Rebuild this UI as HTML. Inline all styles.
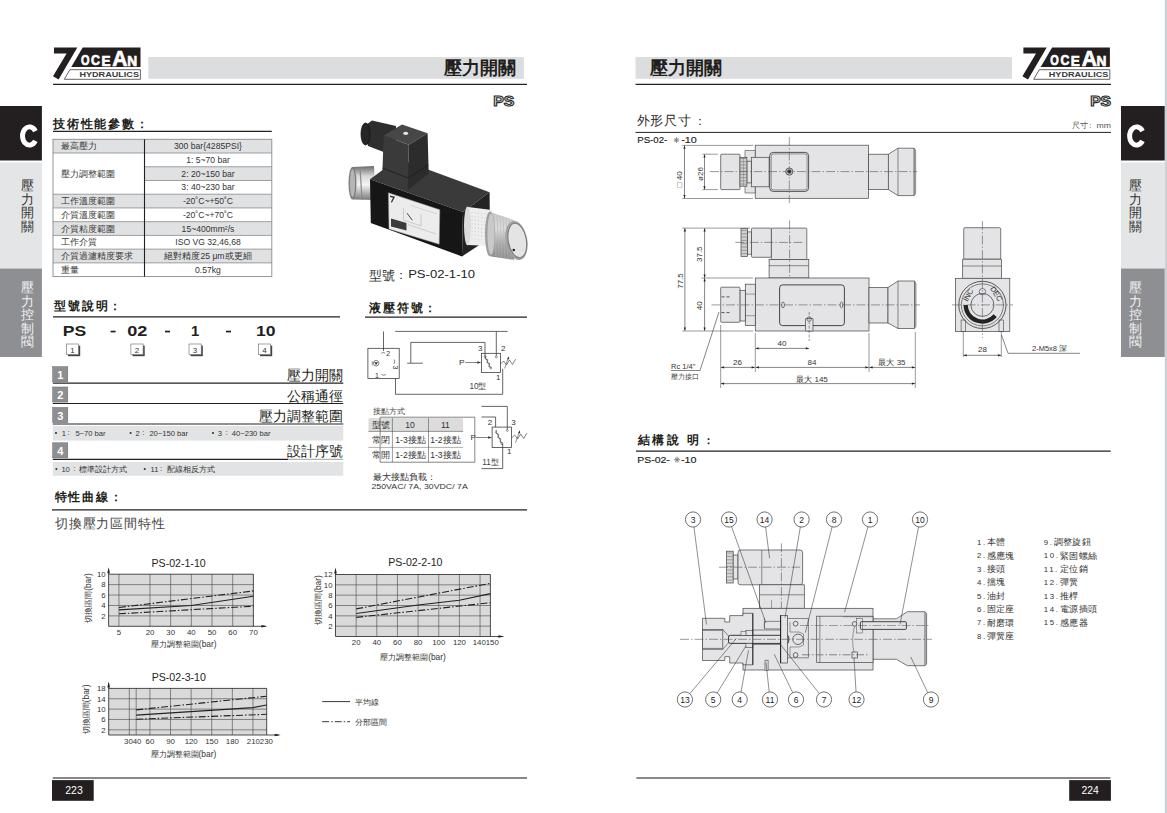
<!DOCTYPE html>
<html><head><meta charset="utf-8"><style>
html,body{margin:0;padding:0;background:#fff;width:1167px;height:813px;overflow:hidden}
svg{display:block}
</style></head><body>
<svg width="1167" height="813" viewBox="0 0 1167 813" font-family='"Liberation Sans", sans-serif'><rect x="0" y="0" width="1167" height="813" fill="#fff" stroke="none" stroke-width="1" /><polygon points="54.0,47.6 77.3,47.6 58.6,79.6 53.0,76.3 66.6,53.4 54.0,53.4" fill="#231f20"/><polygon points="82.7,47.6 140.5,47.6 140.5,67.1 71.3,67.1" fill="#231f20"/><polygon points="69.9,69.7 140.4,69.7 140.4,79.3 64.3,79.3" fill="#fff" stroke="#555" stroke-width="0.9"/><text transform="translate(80.95,65.45) scale(0.731,1)" font-size="14.97" font-weight="bold" fill="#fff" stroke="#fff" stroke-width="0.7">O</text><text transform="translate(91.09,65.45) scale(0.827,1)" font-size="14.97" font-weight="bold" fill="#fff" stroke="#fff" stroke-width="0.7">C</text><text transform="translate(101.39,65.60) scale(0.896,1)" font-size="15.12" font-weight="bold" fill="#fff" stroke="#fff" stroke-width="0.7">E</text><text transform="translate(112.28,65.60) scale(0.915,1)" font-size="22.97" font-weight="bold" fill="#fff" stroke="#fff" stroke-width="0.7">A</text><text transform="translate(127.18,65.60) scale(0.911,1)" font-size="15.12" font-weight="bold" fill="#fff" stroke="#fff" stroke-width="0.7">N</text><text transform="translate(79.39,76.82) scale(1.132,1)" font-size="8.05" font-weight="bold" fill="#3a3a3a" >HYDRAULICS</text><rect x="148.3" y="57" width="375.6" height="21.8" fill="#dcdddf" stroke="none" stroke-width="1" /><text x="515.8" y="74" font-size="18.2" text-anchor="end" font-weight="bold" fill="#231f20" >壓力開關</text><line x1="53" y1="84.3" x2="527" y2="84.3" stroke="#222" stroke-width="1.3" /><text transform="translate(493.24,105.56) scale(1.097,1)" font-size="14.41" font-weight="bold" fill="#e2e2e2" stroke="#2a2a2a" stroke-width="1.05">PS</text><rect x="0" y="106" width="41.9" height="54.5" fill="#231f20" stroke="none" stroke-width="1" /><path d="M35.37,131.04 A7.0,9.1 0 1 0 35.37,140.96" fill="none" stroke="#fff" stroke-width="4.9"/><rect x="0" y="162.5" width="41.9" height="106" fill="#e4e5e7" stroke="none" stroke-width="1" /><rect x="0" y="268.5" width="41.9" height="88.5" fill="#8e8f93" stroke="none" stroke-width="1" /><text x="27.7" y="190.0" font-size="13" text-anchor="middle" font-weight="normal" fill="#333" >壓</text><text x="27.7" y="203.5" font-size="13" text-anchor="middle" font-weight="normal" fill="#333" >力</text><text x="27.7" y="217.0" font-size="13" text-anchor="middle" font-weight="normal" fill="#333" >開</text><text x="27.7" y="230.5" font-size="13" text-anchor="middle" font-weight="normal" fill="#333" >關</text><text x="27.7" y="292.0" font-size="13" text-anchor="middle" font-weight="normal" fill="#f2f2f2" >壓</text><text x="27.7" y="305.5" font-size="13" text-anchor="middle" font-weight="normal" fill="#f2f2f2" >力</text><text x="27.7" y="319.0" font-size="13" text-anchor="middle" font-weight="normal" fill="#f2f2f2" >控</text><text x="27.7" y="332.5" font-size="13" text-anchor="middle" font-weight="normal" fill="#f2f2f2" >制</text><text x="27.7" y="346.0" font-size="13" text-anchor="middle" font-weight="normal" fill="#f2f2f2" >閥</text><text x="53" y="127.5" font-size="12.3" text-anchor="start" font-weight="bold" fill="#231f20" letter-spacing="1.75">技術性能參數：</text><line x1="53" y1="131.3" x2="271.8" y2="131.3" stroke="#222" stroke-width="1.2" /><rect x="53" y="139.3" width="218.8" height="13.72999999999999" fill="#e0e1e3" stroke="none" stroke-width="1" /><rect x="144.5" y="166.76000000000002" width="127.30000000000001" height="13.72999999999999" fill="#e0e1e3" stroke="none" stroke-width="1" /><rect x="53" y="194.22000000000003" width="218.8" height="13.72999999999999" fill="#e0e1e3" stroke="none" stroke-width="1" /><rect x="53" y="221.68" width="218.8" height="13.730000000000018" fill="#e0e1e3" stroke="none" stroke-width="1" /><rect x="53" y="249.14000000000001" width="218.8" height="13.72999999999999" fill="#e0e1e3" stroke="none" stroke-width="1" /><line x1="53" y1="153.03" x2="271.8" y2="153.03" stroke="#8a8a8a" stroke-width="0.8" /><line x1="144.5" y1="166.76000000000002" x2="271.8" y2="166.76000000000002" stroke="#8a8a8a" stroke-width="0.8" /><line x1="144.5" y1="180.49" x2="271.8" y2="180.49" stroke="#8a8a8a" stroke-width="0.8" /><line x1="53" y1="194.22000000000003" x2="271.8" y2="194.22000000000003" stroke="#8a8a8a" stroke-width="0.8" /><line x1="53" y1="207.95000000000002" x2="271.8" y2="207.95000000000002" stroke="#8a8a8a" stroke-width="0.8" /><line x1="53" y1="221.68" x2="271.8" y2="221.68" stroke="#8a8a8a" stroke-width="0.8" /><line x1="53" y1="235.41000000000003" x2="271.8" y2="235.41000000000003" stroke="#8a8a8a" stroke-width="0.8" /><line x1="53" y1="249.14000000000001" x2="271.8" y2="249.14000000000001" stroke="#8a8a8a" stroke-width="0.8" /><line x1="53" y1="262.87" x2="271.8" y2="262.87" stroke="#8a8a8a" stroke-width="0.8" /><rect x="53" y="139.3" width="218.8" height="137.3" fill="none" stroke="#8a8a8a" stroke-width="0.9" /><line x1="144.5" y1="139.3" x2="144.5" y2="276.6" stroke="#231f20" stroke-width="1.1" /><text x="61" y="149.3" font-size="8.5" text-anchor="start" font-weight="normal" fill="#3a3a3a" >最高壓力</text><text x="208" y="149.3" font-size="8.6" text-anchor="middle" font-weight="normal" fill="#333" >300 bar{4285PSI}</text><text x="208" y="163.03" font-size="8.6" text-anchor="middle" font-weight="normal" fill="#333" >1: 5~70 bar</text><text x="208" y="176.76000000000002" font-size="8.6" text-anchor="middle" font-weight="normal" fill="#333" >2: 20~150 bar</text><text x="208" y="190.49" font-size="8.6" text-anchor="middle" font-weight="normal" fill="#333" >3: 40~230 bar</text><text x="61" y="204.22000000000003" font-size="8.5" text-anchor="start" font-weight="normal" fill="#3a3a3a" >工作溫度範圍</text><text x="208" y="204.22000000000003" font-size="8.6" text-anchor="middle" font-weight="normal" fill="#333" >-20˚C~+50˚C</text><text x="61" y="217.95000000000002" font-size="8.5" text-anchor="start" font-weight="normal" fill="#3a3a3a" >介質溫度範圍</text><text x="208" y="217.95000000000002" font-size="8.6" text-anchor="middle" font-weight="normal" fill="#333" >-20˚C~+70˚C</text><text x="61" y="231.68" font-size="8.5" text-anchor="start" font-weight="normal" fill="#3a3a3a" >介質粘度範圍</text><text x="208" y="231.68" font-size="8.6" text-anchor="middle" font-weight="normal" fill="#333" >15~400mm²/s</text><text x="61" y="245.41000000000003" font-size="8.5" text-anchor="start" font-weight="normal" fill="#3a3a3a" >工作介質</text><text x="208" y="245.41000000000003" font-size="8.6" text-anchor="middle" font-weight="normal" fill="#333" >ISO VG 32,46,68</text><text x="61" y="259.14" font-size="8.5" text-anchor="start" font-weight="normal" fill="#3a3a3a" >介質過濾精度要求</text><text x="208" y="259.14" font-size="8.6" text-anchor="middle" font-weight="normal" fill="#333" >絕對精度25 μm或更細</text><text x="61" y="272.87" font-size="8.5" text-anchor="start" font-weight="normal" fill="#3a3a3a" >重量</text><text x="208" y="272.87" font-size="8.6" text-anchor="middle" font-weight="normal" fill="#333" >0.57kg</text><text x="61" y="176.625" font-size="8.5" text-anchor="start" font-weight="normal" fill="#3a3a3a" >壓力調整範圍</text><text x="54.4" y="310" font-size="12.3" text-anchor="start" font-weight="bold" fill="#231f20" letter-spacing="1.75">型號說明：</text><line x1="53" y1="316.8" x2="340" y2="316.8" stroke="#222" stroke-width="1.2" /><text transform="translate(62.72,336.05) scale(1.175,1)" font-size="14.97" font-weight="bold" fill="#231f20" >PS</text><text transform="translate(127.18,336.05) scale(1.209,1)" font-size="14.97" font-weight="bold" fill="#231f20" >02</text><text transform="translate(191.07,336.20) scale(0.962,1)" font-size="15.41" font-weight="bold" fill="#231f20" >1</text><text transform="translate(255.89,336.05) scale(1.173,1)" font-size="14.97" font-weight="bold" fill="#231f20" >10</text><rect x="110.6" y="330.7" width="5" height="1.7" fill="#231f20" stroke="none" stroke-width="1" /><rect x="165" y="330.7" width="5" height="1.7" fill="#231f20" stroke="none" stroke-width="1" /><rect x="226" y="330.7" width="5" height="1.7" fill="#231f20" stroke="none" stroke-width="1" /><rect x="68.0" y="345.6" width="12.2" height="10.6" fill="#444" stroke="none" stroke-width="1" /><rect x="66.4" y="344" width="12.2" height="10.6" fill="#fff" stroke="#666" stroke-width="0.6" /><text x="72.5" y="352.6" font-size="8" text-anchor="middle" font-weight="normal" fill="#333" >1</text><rect x="132.5" y="345.6" width="12.2" height="10.6" fill="#444" stroke="none" stroke-width="1" /><rect x="130.9" y="344" width="12.2" height="10.6" fill="#fff" stroke="#666" stroke-width="0.6" /><text x="137.0" y="352.6" font-size="8" text-anchor="middle" font-weight="normal" fill="#333" >2</text><rect x="190.6" y="345.6" width="12.2" height="10.6" fill="#444" stroke="none" stroke-width="1" /><rect x="189" y="344" width="12.2" height="10.6" fill="#fff" stroke="#666" stroke-width="0.6" /><text x="195.1" y="352.6" font-size="8" text-anchor="middle" font-weight="normal" fill="#333" >3</text><rect x="260.0" y="345.6" width="12.2" height="10.6" fill="#444" stroke="none" stroke-width="1" /><rect x="258.4" y="344" width="12.2" height="10.6" fill="#fff" stroke="#666" stroke-width="0.6" /><text x="264.5" y="352.6" font-size="8" text-anchor="middle" font-weight="normal" fill="#333" >4</text><rect x="52.7" y="366.7" width="15.1" height="15.1" fill="#8e8f93" stroke="#666" stroke-width="0.5" /><text x="60.2" y="378.7" font-size="11" text-anchor="middle" font-weight="bold" fill="#fff" >1</text><text x="343.3" y="380.3" font-size="13.6" text-anchor="end" font-weight="normal" fill="#231f20" >壓力開關</text><line x1="52.8" y1="383.2" x2="343.3" y2="383.2" stroke="#222" stroke-width="1.2" /><rect x="52.7" y="387" width="15.1" height="15.1" fill="#8e8f93" stroke="#666" stroke-width="0.5" /><text x="60.2" y="399" font-size="11" text-anchor="middle" font-weight="bold" fill="#fff" >2</text><text x="343.3" y="400.6" font-size="13.6" text-anchor="end" font-weight="normal" fill="#231f20" >公稱通徑</text><line x1="52.8" y1="403.5" x2="343.3" y2="403.5" stroke="#222" stroke-width="1.2" /><rect x="52.7" y="407.5" width="15.1" height="15.1" fill="#8e8f93" stroke="#666" stroke-width="0.5" /><text x="60.2" y="419.5" font-size="11" text-anchor="middle" font-weight="bold" fill="#fff" >3</text><text x="343.3" y="421.1" font-size="13.6" text-anchor="end" font-weight="normal" fill="#231f20" >壓力調整範圍</text><line x1="52.8" y1="424.0" x2="343.3" y2="424.0" stroke="#222" stroke-width="1.2" /><rect x="52.8" y="426" width="290.5" height="14.600000000000023" fill="#e2e3e5" stroke="none" stroke-width="1" /><circle cx="56.0" cy="433" r="1.05" fill="#333"/><text x="61.8" y="435.6" font-size="7.6" text-anchor="start" font-weight="normal" fill="#333" >1</text><text x="67.6" y="435.4" font-size="7.6" text-anchor="start" font-weight="normal" fill="#333" >:</text><text x="75.4" y="435.6" font-size="7.6" text-anchor="start" font-weight="normal" fill="#333" >5~70 bar</text><circle cx="130.60000000000002" cy="433" r="1.05" fill="#333"/><text x="135.4" y="435.6" font-size="7.6" text-anchor="start" font-weight="normal" fill="#333" >2</text><text x="142.3" y="435.4" font-size="7.6" text-anchor="start" font-weight="normal" fill="#333" >:</text><text x="149.4" y="435.6" font-size="7.6" text-anchor="start" font-weight="normal" fill="#333" >20~150 bar</text><circle cx="213.0" cy="433" r="1.05" fill="#333"/><text x="217.8" y="435.6" font-size="7.6" text-anchor="start" font-weight="normal" fill="#333" >3</text><text x="225.4" y="435.4" font-size="7.6" text-anchor="start" font-weight="normal" fill="#333" >:</text><text x="231.8" y="435.6" font-size="7.6" text-anchor="start" font-weight="normal" fill="#333" >40~230 bar</text><rect x="52.7" y="442.8" width="15.1" height="15.1" fill="#8e8f93" stroke="#666" stroke-width="0.5" /><text x="60.2" y="454.8" font-size="11" text-anchor="middle" font-weight="bold" fill="#fff" >4</text><text x="343.3" y="456.40000000000003" font-size="13.6" text-anchor="end" font-weight="normal" fill="#231f20" >設計序號</text><line x1="52.8" y1="459.3" x2="288" y2="459.3" stroke="#222" stroke-width="1.2" /><line x1="288" y1="459.3" x2="343.3" y2="459.3" stroke="#777" stroke-width="0.7" /><rect x="52.8" y="462" width="290.5" height="13.800000000000011" fill="#e2e3e5" stroke="none" stroke-width="1" /><circle cx="56.4" cy="469" r="1.05" fill="#333"/><text x="61.4" y="471.6" font-size="7.6" text-anchor="start" font-weight="normal" fill="#333" >10</text><text x="73.2" y="471.4" font-size="7.6" text-anchor="start" font-weight="normal" fill="#333" >:</text><text x="78.8" y="471.9" font-size="8.2" text-anchor="start" font-weight="normal" fill="#333" >標準設計方式</text><circle cx="144.70000000000002" cy="469" r="1.05" fill="#333"/><text x="150.5" y="471.6" font-size="7.6" text-anchor="start" font-weight="normal" fill="#333" >11</text><text x="160" y="471.4" font-size="7.6" text-anchor="start" font-weight="normal" fill="#333" >:</text><text x="166.8" y="471.9" font-size="8.2" text-anchor="start" font-weight="normal" fill="#333" >配線相反方式</text><text x="54.5" y="500.5" font-size="12.3" text-anchor="start" font-weight="bold" fill="#231f20" letter-spacing="1.75">特性曲線：</text><line x1="52" y1="509.8" x2="527" y2="509.8" stroke="#222" stroke-width="1.2" /><text x="55" y="528" font-size="13" text-anchor="start" font-weight="normal" fill="#444" letter-spacing="0.8">切換壓力區間特性</text><text x="369.3" y="311.5" font-size="12.3" text-anchor="start" font-weight="bold" fill="#231f20" letter-spacing="1.75">液壓符號：</text><line x1="365" y1="317.2" x2="527" y2="317.2" stroke="#222" stroke-width="1.2" /><rect x="367.9" y="348.3" width="31.3" height="30.1" fill="none" stroke="#333" stroke-width="0.75" /><polyline points="383.5,331.4 383.5,351" fill="none" stroke="#333" stroke-width="0.75"/><line x1="395.2" y1="331.4" x2="507.6" y2="331.4" stroke="#333" stroke-width="0.75" /><polyline points="496.3,331.4 496.3,355.8" fill="none" stroke="#333" stroke-width="0.75"/><circle cx="496.3" cy="356.8" r="1" fill="none" stroke="#333" stroke-width="0.5"/><polyline points="410.8,363.2 410.8,342.4 485,342.4 485,355.4" fill="none" stroke="#333" stroke-width="0.75"/><circle cx="485" cy="356.4" r="1" fill="none" stroke="#333" stroke-width="0.5"/><line x1="407.2" y1="363.2" x2="422.8" y2="363.2" stroke="#333" stroke-width="0.75" /><rect x="481.5" y="353.3" width="19.1" height="19.1" fill="none" stroke="#333" stroke-width="0.75" /><polyline points="502.7,368.8 502.7,394.3 395.5,394.3 395.5,378.4" fill="none" stroke="#333" stroke-width="0.75"/><circle cx="376.1" cy="363.2" r="2.8" fill="none" stroke="#333" stroke-width="0.6"/><path d="M374.2,362.2 L378,362.2 L376.1,365 Z" fill="#333"/><line x1="372.3" y1="361" x2="372.3" y2="365.5" stroke="#333" stroke-width="0.5" /><path d="M381.2,353.3 q2,-1.6 4,0" fill="none" stroke="#333" stroke-width="0.6"/><text x="386.3" y="355.6" font-size="7" text-anchor="start" font-weight="normal" fill="#333" >2</text><path d="M394,359.5 q1.6,2 0,4.3" fill="none" stroke="#333" stroke-width="0.6"/><text x="393" y="365.5" font-size="7" fill="#333" transform="rotate(90 393 365.5)">3</text><text x="375" y="378" font-size="7" text-anchor="start" font-weight="normal" fill="#333" >1</text><path d="M381.5,374.5 q2.2,1.6 4.4,0" fill="none" stroke="#333" stroke-width="0.6"/><line x1="485" y1="356.4" x2="490.7" y2="368.1" stroke="#333" stroke-width="0.5"/><polyline points="485.99,355.92 484.96,358.83 487.89,359.82 486.86,362.73 489.79,363.72 488.76,366.63 491.69,367.62" fill="none" stroke="#333" stroke-width="0.6"/><circle cx="490.7" cy="368.1" r="0.9" fill="#fff" stroke="#333" stroke-width="0.5"/><polyline points="500.6,364 503.56,361 506.52,365 509.48,360 512.4399999999999,364.5 515.4,359.5 515.9,360" fill="none" stroke="#333" stroke-width="0.6"/><line x1="504.6" y1="368.5" x2="508.6" y2="357" stroke="#333" stroke-width="0.55"/><polygon points="508.90000000000003,356.2 507.20000000000005,359 509.20000000000005,359.4" fill="#333"/><text x="478" y="351.3" font-size="8" text-anchor="start" font-weight="normal" fill="#333" >3</text><text x="501" y="351.3" font-size="8" text-anchor="start" font-weight="normal" fill="#333" >2</text><text x="496" y="380.2" font-size="8" text-anchor="start" font-weight="normal" fill="#333" >1</text><text transform="translate(458.91,364.90) scale(1.098,1)" font-size="7.70" font-weight="normal" fill="#333" >P</text><line x1="465.2" y1="362.5" x2="478.5" y2="362.5" stroke="#333" stroke-width="0.6" /><polygon points="481.3,362.5 477.3,361.2 477.3,363.8" fill="#333"/><text x="469.4" y="388.6" font-size="8.2" text-anchor="start" font-weight="normal" fill="#444" >10型</text><text x="372.6" y="414.2" font-size="7.8" text-anchor="start" font-weight="normal" fill="#444" >接點方式</text><rect x="368.4" y="418.1" width="94.7" height="13.3" fill="#dcdcdc" stroke="none" stroke-width="1" /><polyline points="380.4,417.2 474.8,417.2 474.8,462.2 380.1,462.2" fill="none" stroke="#333" stroke-width="0.6"/><line x1="380.1" y1="417.2" x2="380.1" y2="462.2" stroke="#333" stroke-width="0.6" /><line x1="368.4" y1="431.4" x2="463.1" y2="431.4" stroke="#555" stroke-width="0.6" /><line x1="368.4" y1="447.4" x2="463.1" y2="447.4" stroke="#999" stroke-width="0.8" /><line x1="392.4" y1="418.1" x2="392.4" y2="462.2" stroke="#555" stroke-width="0.6" /><line x1="428.5" y1="418.1" x2="428.5" y2="462.2" stroke="#555" stroke-width="0.6" /><text x="381.2" y="428.3" font-size="8.6" text-anchor="middle" font-weight="normal" fill="#333" >型號</text><text x="410.1" y="428.3" font-size="8.6" text-anchor="middle" font-weight="normal" fill="#333" >10</text><text x="445.4" y="428.3" font-size="8.6" text-anchor="middle" font-weight="normal" fill="#333" >11</text><text x="381.2" y="443" font-size="8.6" text-anchor="middle" font-weight="normal" fill="#333" >常閉</text><text x="410.5" y="443" font-size="8.6" text-anchor="middle" font-weight="normal" fill="#333" >1-3接點</text><text x="445.4" y="443" font-size="8.6" text-anchor="middle" font-weight="normal" fill="#333" >1-2接點</text><text x="381.2" y="458.2" font-size="8.6" text-anchor="middle" font-weight="normal" fill="#333" >常開</text><text x="410.5" y="458.2" font-size="8.6" text-anchor="middle" font-weight="normal" fill="#333" >1-2接點</text><text x="445.4" y="458.2" font-size="8.6" text-anchor="middle" font-weight="normal" fill="#333" >1-3接點</text><polyline points="481.5,406.4 507.3,406.4 507.3,429.4" fill="none" stroke="#333" stroke-width="0.75"/><circle cx="507.3" cy="430.4" r="1" fill="none" stroke="#333" stroke-width="0.5"/><polyline points="481.5,417 495.6,417 495.6,427.1" fill="none" stroke="#333" stroke-width="0.75"/><rect x="492.1" y="427.1" width="19.5" height="20.3" fill="none" stroke="#333" stroke-width="0.75" /><line x1="495.6" y1="430.4" x2="502" y2="443.8" stroke="#333" stroke-width="0.5"/><polyline points="496.59,429.93 495.67,433.11 498.73,434.39 497.81,437.57 500.86,438.86 499.94,442.04 502.99,443.33" fill="none" stroke="#333" stroke-width="0.6"/><circle cx="502" cy="443.8" r="0.9" fill="#fff" stroke="#333" stroke-width="0.5"/><polyline points="511.6,438 514.62,435 517.64,439 520.6600000000001,434 523.6800000000001,438.5 526.7,433.5 527.2,434" fill="none" stroke="#333" stroke-width="0.6"/><line x1="515.6" y1="442.5" x2="519.6" y2="431" stroke="#333" stroke-width="0.55"/><polygon points="519.9,430.2 518.2,433 520.2,433.4" fill="#333"/><polyline points="502.7,443.8 502.7,468.6 481.5,468.6" fill="none" stroke="#333" stroke-width="0.75"/><text x="487.8" y="425.2" font-size="8" text-anchor="start" font-weight="normal" fill="#333" >2</text><text x="511.2" y="425.4" font-size="8" text-anchor="start" font-weight="normal" fill="#333" >3</text><text x="506.9" y="454.4" font-size="8" text-anchor="start" font-weight="normal" fill="#333" >1</text><text transform="translate(470.44,439.60) scale(1.112,1)" font-size="7.27" font-weight="normal" fill="#333" >P</text><line x1="475.8" y1="437.5" x2="489.5" y2="437.5" stroke="#333" stroke-width="0.6" /><polygon points="492.1,437.5 488.1,436.2 488.1,438.8" fill="#333"/><text x="482.2" y="465.3" font-size="8.2" text-anchor="start" font-weight="normal" fill="#444" >11型</text><text x="372.6" y="480" font-size="8.6" text-anchor="start" font-weight="normal" fill="#333" >最大接點負載：</text><text transform="translate(371.46,489.39) scale(1.388,1)" font-size="6.33" font-weight="normal" fill="#333" >250VAC/ 7A, 30VDC/ 7A</text><defs>
<linearGradient id="gMetal" x1="0" y1="0" x2="0" y2="1"><stop offset="0" stop-color="#6a6a6a"/><stop offset="0.3" stop-color="#d8d8d8"/><stop offset="0.55" stop-color="#f4f4f4"/><stop offset="1" stop-color="#7a7a7a"/></linearGradient>
<linearGradient id="gKnob" x1="0" y1="0" x2="1" y2="1"><stop offset="0" stop-color="#9a9a9a"/><stop offset="0.5" stop-color="#e6e6e6"/><stop offset="1" stop-color="#8a8a8a"/></linearGradient>
<linearGradient id="gTop" x1="0" y1="0" x2="1" y2="0"><stop offset="0" stop-color="#3a3a3a"/><stop offset="1" stop-color="#1a1a1a"/></linearGradient>
</defs><path d="M352,167 L374,166 L376,200 L353,199.5 Z" fill="url(#gMetal)"/><ellipse cx="352.5" cy="183.2" rx="4" ry="16.3" fill="#7d7d7d"/><ellipse cx="352.5" cy="183.2" rx="2.6" ry="14" fill="#b5b5b5"/><path d="M360,167 L362,199.7" stroke="#8a8a8a" stroke-width="1.2"/><polygon points="370,179.3 398.2,158.6 489.6,192.2 463,212" fill="#3a3a3a"/><polygon points="370,179.3 463,212 462,256.4 370.8,223" fill="#161616"/><polygon points="463,212 489.6,192.2 490,238 462,256.4" fill="#232323"/><polygon points="388.4,192.8 439.8,209.7 439.2,244.2 389,229" fill="#ececec" stroke="#999" stroke-width="0.5"/><polygon points="391,218.5 406.5,223 406.5,230.5 391,226.5" fill="#3c3c3c"/><line x1="407" y1="213.2" x2="412.3" y2="220.2" stroke="#333" stroke-width="0.9"/><polyline points="403.5,208 403.5,220 421,226 421,214" fill="none" stroke="#999" stroke-width="0.4"/><line x1="408" y1="224.5" x2="436" y2="234" stroke="#999" stroke-width="0.4"/><line x1="411" y1="205.5" x2="437" y2="214" stroke="#aaa" stroke-width="0.6" stroke-dasharray="1,0.6"/><polygon points="390,195.5 395,196.8 392,202.5 390.8,202.2 393,197.8 390,197" fill="#333"/><polygon points="363,127 372,120.5 396,126 396,150 383.7,152 368,146" fill="#2e2e2e"/><ellipse cx="365.5" cy="134" rx="4.5" ry="11" fill="#262626" stroke="#111" stroke-width="0.8"/><polygon points="383.7,135.4 408.8,144.8 407.8,190.3 382.1,179.9" fill="#3a3a3a"/><polygon points="383.7,135.4 402,124.4 427.6,133.3 408.8,144.8" fill="#474747"/><polygon points="408.8,144.8 427.6,133.3 428.7,173.6 407.8,190.3" fill="#2c2c2c"/><polyline points="382.5,168 408,178 428.5,165" fill="none" stroke="#1a1a1a" stroke-width="0.8"/><ellipse cx="405.7" cy="133.3" rx="2.6" ry="1.6" fill="#e5e5e5"/><path d="M468,207 L492,210 L492,246 L468,245 Z" fill="#eeeeee"/><ellipse cx="467.5" cy="226" rx="3.5" ry="19.5" fill="#dcdcdc"/><line x1="472.0" y1="212.0" x2="472.0" y2="240.0" stroke="#aaa" stroke-width="0.5" stroke-dasharray="1.2,2.5"/><line x1="475.2" y1="212.4" x2="475.2" y2="239.8" stroke="#aaa" stroke-width="0.5" stroke-dasharray="1.2,2.5"/><line x1="478.4" y1="212.8" x2="478.4" y2="239.6" stroke="#aaa" stroke-width="0.5" stroke-dasharray="1.2,2.5"/><line x1="481.6" y1="213.2" x2="481.6" y2="239.4" stroke="#aaa" stroke-width="0.5" stroke-dasharray="1.2,2.5"/><line x1="484.8" y1="213.6" x2="484.8" y2="239.2" stroke="#aaa" stroke-width="0.5" stroke-dasharray="1.2,2.5"/><line x1="488.0" y1="214.0" x2="488.0" y2="239.0" stroke="#aaa" stroke-width="0.5" stroke-dasharray="1.2,2.5"/><defs><linearGradient id="gK2" x1="0" y1="0" x2="0" y2="1"><stop offset="0" stop-color="#c8c8c8"/><stop offset="0.35" stop-color="#dcdcdc"/><stop offset="0.7" stop-color="#a6a6a6"/><stop offset="1" stop-color="#8c8c8c"/></linearGradient></defs><path d="M489,211.5 L515,220.5 L514,259.8 L491,256.5 Z" fill="url(#gK2)"/><ellipse cx="490" cy="234" rx="5" ry="22.5" fill="#9e9e9e"/><ellipse cx="491" cy="234" rx="3.6" ry="20.5" fill="#c9c9c9"/><line x1="494" y1="214.0" x2="496" y2="256.0" stroke="#b5b5b5" stroke-width="0.6"/><line x1="497" y1="214.9" x2="499" y2="256.8" stroke="#b5b5b5" stroke-width="0.6"/><line x1="500" y1="215.8" x2="502" y2="257.6" stroke="#b5b5b5" stroke-width="0.6"/><line x1="503" y1="216.7" x2="505" y2="258.4" stroke="#b5b5b5" stroke-width="0.6"/><line x1="506" y1="217.6" x2="508" y2="259.2" stroke="#b5b5b5" stroke-width="0.6"/><line x1="509" y1="218.5" x2="511" y2="260.0" stroke="#b5b5b5" stroke-width="0.6"/><line x1="512" y1="219.4" x2="514" y2="260.8" stroke="#b5b5b5" stroke-width="0.6"/><ellipse cx="516.5" cy="240.5" rx="10.8" ry="19.8" fill="#a0a0a0" transform="rotate(-10 516.5 240.5)"/><ellipse cx="517.3" cy="240.5" rx="9" ry="17.5" fill="#e4e4e4" stroke="#7a7a7a" stroke-width="1" transform="rotate(-10 517.3 240.5)"/><circle cx="513.8" cy="250" r="1.3" fill="#222"/><text x="368.6" y="279.5" font-size="12.9" text-anchor="start" font-weight="normal" fill="#333" >型號</text><text x="395" y="279.3" font-size="12" text-anchor="start" font-weight="normal" fill="#333" >：</text><text transform="translate(408.13,278.29) scale(1.189,1)" font-size="11.02" font-weight="normal" fill="#222" >PS-02-1-10</text><text x="178.6" y="566.5" font-size="10.6" text-anchor="middle" font-weight="normal" fill="#231f20" >PS-02-1-10</text><rect x="108.6" y="574.2" width="144.8" height="52.09999999999991" fill="#dadada" stroke="none" stroke-width="1" /><line x1="118.94285714285714" y1="574.2" x2="118.94285714285714" y2="626.3" stroke="#444" stroke-width="0.6" /><line x1="149.9714285714286" y1="574.2" x2="149.9714285714286" y2="626.3" stroke="#444" stroke-width="0.6" /><line x1="170.65714285714287" y1="574.2" x2="170.65714285714287" y2="626.3" stroke="#444" stroke-width="0.6" /><line x1="191.34285714285716" y1="574.2" x2="191.34285714285716" y2="626.3" stroke="#444" stroke-width="0.6" /><line x1="212.02857142857144" y1="574.2" x2="212.02857142857144" y2="626.3" stroke="#444" stroke-width="0.6" /><line x1="232.71428571428572" y1="574.2" x2="232.71428571428572" y2="626.3" stroke="#444" stroke-width="0.6" /><line x1="108.6" y1="615.88" x2="253.4" y2="615.88" stroke="#444" stroke-width="0.6" /><line x1="108.6" y1="605.46" x2="253.4" y2="605.46" stroke="#444" stroke-width="0.6" /><line x1="108.6" y1="595.04" x2="253.4" y2="595.04" stroke="#444" stroke-width="0.6" /><line x1="108.6" y1="584.62" x2="253.4" y2="584.62" stroke="#444" stroke-width="0.6" /><line x1="108.6" y1="574.2" x2="253.4" y2="574.2" stroke="#222" stroke-width="0.8" /><line x1="253.4" y1="574.2" x2="253.4" y2="626.3" stroke="#222" stroke-width="0.8" /><line x1="108.6" y1="626.3" x2="265.4" y2="626.3" stroke="#222" stroke-width="0.8" /><polygon points="267.4,626.3 261.4,625.0 261.4,627.5999999999999" fill="#222"/><line x1="108.6" y1="626.3" x2="108.6" y2="569.2" stroke="#222" stroke-width="0.8" /><polygon points="108.6,567.2 107.3,573.2 109.89999999999999,573.2" fill="#222"/><text x="118.94285714285714" y="635.0999999999999" font-size="7.8" text-anchor="middle" font-weight="normal" fill="#333" >5</text><text x="149.9714285714286" y="635.0999999999999" font-size="7.8" text-anchor="middle" font-weight="normal" fill="#333" >20</text><text x="170.65714285714287" y="635.0999999999999" font-size="7.8" text-anchor="middle" font-weight="normal" fill="#333" >30</text><text x="191.34285714285716" y="635.0999999999999" font-size="7.8" text-anchor="middle" font-weight="normal" fill="#333" >40</text><text x="212.02857142857144" y="635.0999999999999" font-size="7.8" text-anchor="middle" font-weight="normal" fill="#333" >50</text><text x="232.71428571428572" y="635.0999999999999" font-size="7.8" text-anchor="middle" font-weight="normal" fill="#333" >60</text><text x="253.40000000000003" y="635.0999999999999" font-size="7.8" text-anchor="middle" font-weight="normal" fill="#333" >70</text><text x="105.6" y="577.0" font-size="7.8" text-anchor="end" font-weight="normal" fill="#333" >10</text><text x="105.6" y="587.42" font-size="7.8" text-anchor="end" font-weight="normal" fill="#333" >8</text><text x="105.6" y="597.8399999999999" font-size="7.8" text-anchor="end" font-weight="normal" fill="#333" >6</text><text x="105.6" y="608.26" font-size="7.8" text-anchor="end" font-weight="normal" fill="#333" >4</text><text x="105.6" y="618.68" font-size="7.8" text-anchor="end" font-weight="normal" fill="#333" >2</text><polyline points="118.9,607.5 253.4,590.9" fill="none" stroke="#222" stroke-width="1.1" stroke-dasharray="7,2,1.5,2"/><polyline points="118.9,609.9 191.3,605.5 253.4,596.3" fill="none" stroke="#222" stroke-width="1.1" /><polyline points="118.9,613.8 253.4,606.2" fill="none" stroke="#222" stroke-width="1.1" stroke-dasharray="7,2,1.5,2"/><text x="90.5" y="598" font-size="8.4" text-anchor="middle" fill="#333" transform="rotate(-90 90.5 598)">切換區間(bar)</text><text x="183.7" y="647" font-size="8.4" text-anchor="middle" font-weight="normal" fill="#333" >壓力調整範圍(bar)</text><text x="415.4" y="566.2" font-size="10.6" text-anchor="middle" font-weight="normal" fill="#231f20" >PS-02-2-10</text><rect x="335.5" y="574.5" width="154.89999999999998" height="62.0" fill="#dadada" stroke="none" stroke-width="1" /><line x1="356.1533333333333" y1="574.5" x2="356.1533333333333" y2="636.5" stroke="#444" stroke-width="0.6" /><line x1="376.8066666666667" y1="574.5" x2="376.8066666666667" y2="636.5" stroke="#444" stroke-width="0.6" /><line x1="397.46" y1="574.5" x2="397.46" y2="636.5" stroke="#444" stroke-width="0.6" /><line x1="418.11333333333334" y1="574.5" x2="418.11333333333334" y2="636.5" stroke="#444" stroke-width="0.6" /><line x1="438.76666666666665" y1="574.5" x2="438.76666666666665" y2="636.5" stroke="#444" stroke-width="0.6" /><line x1="459.41999999999996" y1="574.5" x2="459.41999999999996" y2="636.5" stroke="#444" stroke-width="0.6" /><line x1="480.0733333333333" y1="574.5" x2="480.0733333333333" y2="636.5" stroke="#444" stroke-width="0.6" /><line x1="335.5" y1="626.1666666666666" x2="490.4" y2="626.1666666666666" stroke="#444" stroke-width="0.6" /><line x1="335.5" y1="615.8333333333334" x2="490.4" y2="615.8333333333334" stroke="#444" stroke-width="0.6" /><line x1="335.5" y1="605.5" x2="490.4" y2="605.5" stroke="#444" stroke-width="0.6" /><line x1="335.5" y1="595.1666666666666" x2="490.4" y2="595.1666666666666" stroke="#444" stroke-width="0.6" /><line x1="335.5" y1="584.8333333333334" x2="490.4" y2="584.8333333333334" stroke="#444" stroke-width="0.6" /><line x1="335.5" y1="574.5" x2="490.4" y2="574.5" stroke="#222" stroke-width="0.8" /><line x1="490.4" y1="574.5" x2="490.4" y2="636.5" stroke="#222" stroke-width="0.8" /><line x1="335.5" y1="636.5" x2="502.4" y2="636.5" stroke="#222" stroke-width="0.8" /><polygon points="504.4,636.5 498.4,635.2 498.4,637.8" fill="#222"/><line x1="335.5" y1="636.5" x2="335.5" y2="569.5" stroke="#222" stroke-width="0.8" /><polygon points="335.5,567.5 334.2,573.5 336.8,573.5" fill="#222"/><text x="356.1533333333333" y="645.3" font-size="7.8" text-anchor="middle" font-weight="normal" fill="#333" >20</text><text x="376.8066666666667" y="645.3" font-size="7.8" text-anchor="middle" font-weight="normal" fill="#333" >40</text><text x="397.46" y="645.3" font-size="7.8" text-anchor="middle" font-weight="normal" fill="#333" >60</text><text x="418.11333333333334" y="645.3" font-size="7.8" text-anchor="middle" font-weight="normal" fill="#333" >80</text><text x="438.76666666666665" y="645.3" font-size="7.8" text-anchor="middle" font-weight="normal" fill="#333" >100</text><text x="459.41999999999996" y="645.3" font-size="7.8" text-anchor="middle" font-weight="normal" fill="#333" >120</text><text x="485.753" y="645.3" font-size="7.8" text-anchor="middle" font-weight="normal" fill="#333" >140150</text><text x="332.5" y="577.3" font-size="7.8" text-anchor="end" font-weight="normal" fill="#333" >12</text><text x="332.5" y="587.6333333333333" font-size="7.8" text-anchor="end" font-weight="normal" fill="#333" >10</text><text x="332.5" y="597.9666666666666" font-size="7.8" text-anchor="end" font-weight="normal" fill="#333" >8</text><text x="332.5" y="608.3" font-size="7.8" text-anchor="end" font-weight="normal" fill="#333" >6</text><text x="332.5" y="618.6333333333333" font-size="7.8" text-anchor="end" font-weight="normal" fill="#333" >4</text><text x="332.5" y="628.9666666666666" font-size="7.8" text-anchor="end" font-weight="normal" fill="#333" >2</text><polyline points="356.2,608.9 490.4,583.3" fill="none" stroke="#222" stroke-width="1.1" stroke-dasharray="7,2,1.5,2"/><polyline points="356.2,613.5 418.1,605.0 459.4,600.3 490.4,593.6" fill="none" stroke="#222" stroke-width="1.1" /><polyline points="356.2,617.4 490.4,602.7" fill="none" stroke="#222" stroke-width="1.1" stroke-dasharray="7,2,1.5,2"/><text x="321" y="600" font-size="8.4" text-anchor="middle" fill="#333" transform="rotate(-90 321 600)">切換區間(bar)</text><text x="413" y="660" font-size="8.4" text-anchor="middle" font-weight="normal" fill="#333" >壓力調整範圍(bar)</text><text x="178.8" y="681" font-size="10.6" text-anchor="middle" font-weight="normal" fill="#231f20" >PS-02-3-10</text><rect x="108.7" y="688.4" width="158.0" height="46.60000000000002" fill="#dadada" stroke="none" stroke-width="1" /><line x1="129.30869565217392" y1="688.4" x2="129.30869565217392" y2="735" stroke="#444" stroke-width="0.6" /><line x1="136.17826086956524" y1="688.4" x2="136.17826086956524" y2="735" stroke="#444" stroke-width="0.6" /><line x1="149.91739130434783" y1="688.4" x2="149.91739130434783" y2="735" stroke="#444" stroke-width="0.6" /><line x1="170.52608695652174" y1="688.4" x2="170.52608695652174" y2="735" stroke="#444" stroke-width="0.6" /><line x1="191.13478260869567" y1="688.4" x2="191.13478260869567" y2="735" stroke="#444" stroke-width="0.6" /><line x1="211.74347826086955" y1="688.4" x2="211.74347826086955" y2="735" stroke="#444" stroke-width="0.6" /><line x1="232.3521739130435" y1="688.4" x2="232.3521739130435" y2="735" stroke="#444" stroke-width="0.6" /><line x1="252.96086956521742" y1="688.4" x2="252.96086956521742" y2="735" stroke="#444" stroke-width="0.6" /><line x1="108.7" y1="729.8222222222222" x2="266.7" y2="729.8222222222222" stroke="#444" stroke-width="0.6" /><line x1="108.7" y1="719.4666666666667" x2="266.7" y2="719.4666666666667" stroke="#444" stroke-width="0.6" /><line x1="108.7" y1="709.1111111111111" x2="266.7" y2="709.1111111111111" stroke="#444" stroke-width="0.6" /><line x1="108.7" y1="698.7555555555555" x2="266.7" y2="698.7555555555555" stroke="#444" stroke-width="0.6" /><line x1="108.7" y1="688.4" x2="266.7" y2="688.4" stroke="#222" stroke-width="0.8" /><line x1="266.7" y1="688.4" x2="266.7" y2="735" stroke="#222" stroke-width="0.8" /><line x1="108.7" y1="735" x2="278.7" y2="735" stroke="#222" stroke-width="0.8" /><polygon points="280.7,735 274.7,733.7 274.7,736.3" fill="#222"/><line x1="108.7" y1="735" x2="108.7" y2="683.4" stroke="#222" stroke-width="0.8" /><polygon points="108.7,681.4 107.4,687.4 110.0,687.4" fill="#222"/><text x="132.74347826086958" y="743.8" font-size="7.8" text-anchor="middle" font-weight="normal" fill="#333" >3040</text><text x="149.91739130434783" y="743.8" font-size="7.8" text-anchor="middle" font-weight="normal" fill="#333" >60</text><text x="170.52608695652174" y="743.8" font-size="7.8" text-anchor="middle" font-weight="normal" fill="#333" >90</text><text x="191.13478260869567" y="743.8" font-size="7.8" text-anchor="middle" font-weight="normal" fill="#333" >120</text><text x="211.74347826086955" y="743.8" font-size="7.8" text-anchor="middle" font-weight="normal" fill="#333" >150</text><text x="232.3521739130435" y="743.8" font-size="7.8" text-anchor="middle" font-weight="normal" fill="#333" >180</text><text x="259.8304347826087" y="743.8" font-size="7.8" text-anchor="middle" font-weight="normal" fill="#333" >210230</text><text x="105.7" y="691.1999999999999" font-size="7.8" text-anchor="end" font-weight="normal" fill="#333" >18</text><text x="105.7" y="701.5555555555554" font-size="7.8" text-anchor="end" font-weight="normal" fill="#333" >14</text><text x="105.7" y="711.911111111111" font-size="7.8" text-anchor="end" font-weight="normal" fill="#333" >10</text><text x="105.7" y="722.2666666666667" font-size="7.8" text-anchor="end" font-weight="normal" fill="#333" >6</text><text x="105.7" y="732.6222222222221" font-size="7.8" text-anchor="end" font-weight="normal" fill="#333" >2</text><polyline points="136.2,709.9 266.7,696.2" fill="none" stroke="#222" stroke-width="1.1" stroke-dasharray="7,2,1.5,2"/><polyline points="136.2,715.1 253.0,707.6 266.7,705.0" fill="none" stroke="#222" stroke-width="1.1" /><polyline points="136.2,719.2 266.7,714.3" fill="none" stroke="#222" stroke-width="1.1" stroke-dasharray="7,2,1.5,2"/><text x="89.5" y="709.4" font-size="8.4" text-anchor="middle" fill="#333" transform="rotate(-90 89.5 709.4)">切換區間(bar)</text><text x="183.4" y="756.5" font-size="8.4" text-anchor="middle" font-weight="normal" fill="#333" >壓力調整範圍(bar)</text><line x1="322.2" y1="701.6" x2="350" y2="701.6" stroke="#222" stroke-width="0.9" /><text x="354.6" y="704.5" font-size="8" text-anchor="start" font-weight="normal" fill="#333" >平均線</text><line x1="322.2" y1="721.7" x2="350" y2="721.7" stroke="#222" stroke-width="0.9" stroke-dasharray="7,2,1.5,2"/><text x="354.6" y="724.6" font-size="8" text-anchor="start" font-weight="normal" fill="#333" >分部區間</text><line x1="52.7" y1="778" x2="527" y2="778" stroke="#888" stroke-width="1.9" /><rect x="52" y="780.1" width="41.7" height="20.7" fill="#231f20" stroke="none" stroke-width="1" /><text transform="translate(65.27,794.10) scale(1.031,1)" font-size="10.17" font-weight="normal" fill="#fff" >223</text><rect x="635.5" y="57" width="376.5" height="21.8" fill="#dcdddf" stroke="none" stroke-width="1" /><text x="650.3" y="74" font-size="18.2" text-anchor="start" font-weight="bold" fill="#231f20" >壓力開關</text><polygon points="1023.4,47.6 1046.7,47.6 1028.0,79.6 1022.4,76.3 1036.0,53.4 1023.4,53.4" fill="#231f20"/><polygon points="1052.1,47.6 1109.9,47.6 1109.9,67.1 1040.7,67.1" fill="#231f20"/><polygon points="1039.3,69.7 1109.8,69.7 1109.8,79.3 1033.7,79.3" fill="#fff" stroke="#555" stroke-width="0.9"/><text transform="translate(1050.35,65.45) scale(0.731,1)" font-size="14.97" font-weight="bold" fill="#fff" stroke="#fff" stroke-width="0.7">O</text><text transform="translate(1060.49,65.45) scale(0.827,1)" font-size="14.97" font-weight="bold" fill="#fff" stroke="#fff" stroke-width="0.7">C</text><text transform="translate(1070.79,65.60) scale(0.896,1)" font-size="15.12" font-weight="bold" fill="#fff" stroke="#fff" stroke-width="0.7">E</text><text transform="translate(1081.68,65.60) scale(0.915,1)" font-size="22.97" font-weight="bold" fill="#fff" stroke="#fff" stroke-width="0.7">A</text><text transform="translate(1096.58,65.60) scale(0.911,1)" font-size="15.12" font-weight="bold" fill="#fff" stroke="#fff" stroke-width="0.7">N</text><text transform="translate(1048.79,76.82) scale(1.132,1)" font-size="8.05" font-weight="bold" fill="#3a3a3a" >HYDRAULICS</text><line x1="635.5" y1="84.3" x2="1111" y2="84.3" stroke="#222" stroke-width="1.3" /><text transform="translate(1090.15,105.56) scale(1.091,1)" font-size="14.41" font-weight="bold" fill="#e2e2e2" stroke="#2a2a2a" stroke-width="1.05">PS</text><rect x="1121" y="106" width="43.799999999999955" height="54.5" fill="#231f20" stroke="none" stroke-width="1" /><path d="M1142.47,131.04 A7.0,9.1 0 1 0 1142.47,140.96" fill="none" stroke="#fff" stroke-width="4.9"/><rect x="1121" y="162.5" width="43.799999999999955" height="106" fill="#e4e5e7" stroke="none" stroke-width="1" /><rect x="1121" y="268.5" width="43.799999999999955" height="88.5" fill="#8e8f93" stroke="none" stroke-width="1" /><text x="1135" y="190.0" font-size="13" text-anchor="middle" font-weight="normal" fill="#333" >壓</text><text x="1135" y="203.5" font-size="13" text-anchor="middle" font-weight="normal" fill="#333" >力</text><text x="1135" y="217.0" font-size="13" text-anchor="middle" font-weight="normal" fill="#333" >開</text><text x="1135" y="230.5" font-size="13" text-anchor="middle" font-weight="normal" fill="#333" >關</text><text x="1135" y="292.0" font-size="13" text-anchor="middle" font-weight="normal" fill="#f2f2f2" >壓</text><text x="1135" y="305.5" font-size="13" text-anchor="middle" font-weight="normal" fill="#f2f2f2" >力</text><text x="1135" y="319.0" font-size="13" text-anchor="middle" font-weight="normal" fill="#f2f2f2" >控</text><text x="1135" y="332.5" font-size="13" text-anchor="middle" font-weight="normal" fill="#f2f2f2" >制</text><text x="1135" y="346.0" font-size="13" text-anchor="middle" font-weight="normal" fill="#f2f2f2" >閥</text><rect x="1164.8" y="0" width="2.2" height="813" fill="#cdd1d5" stroke="none" stroke-width="1" /><text x="636.6" y="125.3" font-size="13.2" text-anchor="start" font-weight="normal" fill="#2a2a2a" letter-spacing="0.8">外形尺寸</text><text x="693.5" y="125.2" font-size="12" text-anchor="start" font-weight="normal" fill="#333" >：</text><text x="1072" y="127.8" font-size="8" text-anchor="start" font-weight="normal" fill="#555" letter-spacing="0.3">尺寸</text><text x="1089.3" y="127.6" font-size="8" text-anchor="start" font-weight="normal" fill="#555" >:</text><text transform="translate(1096.62,127.60) scale(1.085,1)" font-size="7.99" font-weight="normal" fill="#555" >mm</text><line x1="635.5" y1="132.4" x2="1111" y2="132.4" stroke="#222" stroke-width="1.0" /><text transform="translate(637.21,143.41) scale(1.008,1)" font-size="9.60" font-weight="normal" fill="#231f20" stroke="#231f20" stroke-width="0.15">PS-02-</text><line x1="673.70" y1="140.10" x2="679.20" y2="140.10" stroke="#777" stroke-width="0.9"/><line x1="674.51" y1="138.16" x2="678.39" y2="142.04" stroke="#777" stroke-width="0.9"/><line x1="676.45" y1="137.35" x2="676.45" y2="142.85" stroke="#777" stroke-width="0.9"/><line x1="678.39" y1="138.16" x2="674.51" y2="142.04" stroke="#777" stroke-width="0.9"/><text transform="translate(681.22,143.41) scale(1.124,1)" font-size="9.60" font-weight="normal" fill="#231f20" stroke="#231f20" stroke-width="0.15">-10</text><line x1="682.3" y1="145.4" x2="753" y2="145.4" stroke="#555" stroke-width="0.6" /><line x1="682.3" y1="198.5" x2="753" y2="198.5" stroke="#555" stroke-width="0.6" /><line x1="684.5" y1="145.6" x2="684.5" y2="198.3" stroke="#333" stroke-width="0.6" /><polygon points="684.5,145.6 683.4,148.79999999999998 685.6,148.79999999999998" fill="#222"/><polygon points="684.5,198.3 683.4,195.10000000000002 685.6,195.10000000000002" fill="#222"/><text x="682.5" y="179.3" font-size="8" text-anchor="middle" fill="#333" transform="rotate(-90 682.5 179.3)">□ 40</text><line x1="702.3" y1="154.2" x2="717.9" y2="154.2" stroke="#555" stroke-width="0.6" /><line x1="702.3" y1="189.6" x2="717.9" y2="189.6" stroke="#555" stroke-width="0.6" /><line x1="704.5" y1="154.4" x2="704.5" y2="189.4" stroke="#333" stroke-width="0.6" /><polygon points="704.5,154.4 703.4,157.6 705.6,157.6" fill="#222"/><polygon points="704.5,189.4 703.4,186.20000000000002 705.6,186.20000000000002" fill="#222"/><text x="702.5" y="174" font-size="8" text-anchor="middle" fill="#333" transform="rotate(-90 702.5 174)">ø26</text><rect x="755.2" y="145.2" width="113.40" height="53.10" rx="0" fill="#e4e4e6" stroke="#444" stroke-width="0.7"/><polygon points="745,150.5 755.2,150.5 755.2,193 745,193" fill="#e4e4e6" stroke="#444" stroke-width="0.6"/><rect x="751.3" y="157.3" width="17.80" height="29.50" rx="0" fill="#e4e4e6" stroke="#444" stroke-width="0.7"/><rect x="746.9" y="161.2" width="4.40" height="21.70" rx="0" fill="#e4e4e6" stroke="#444" stroke-width="0.7"/><rect x="720.7" y="154.2" width="19.30" height="35.40" rx="0.8" fill="#e4e4e6" stroke="#444" stroke-width="0.7"/><rect x="740" y="157.3" width="6.90" height="28.90" rx="0" fill="#d0d0d0" stroke="#444" stroke-width="0.7"/><line x1="740.5" y1="158.5" x2="746.5" y2="158.5" stroke="#666" stroke-width="0.5" /><line x1="740.5" y1="161.7" x2="746.5" y2="161.7" stroke="#666" stroke-width="0.5" /><line x1="740.5" y1="164.9" x2="746.5" y2="164.9" stroke="#666" stroke-width="0.5" /><line x1="740.5" y1="168.1" x2="746.5" y2="168.1" stroke="#666" stroke-width="0.5" /><line x1="740.5" y1="171.3" x2="746.5" y2="171.3" stroke="#666" stroke-width="0.5" /><line x1="740.5" y1="174.5" x2="746.5" y2="174.5" stroke="#666" stroke-width="0.5" /><line x1="740.5" y1="177.7" x2="746.5" y2="177.7" stroke="#666" stroke-width="0.5" /><line x1="740.5" y1="180.9" x2="746.5" y2="180.9" stroke="#666" stroke-width="0.5" /><line x1="740.5" y1="184.1" x2="746.5" y2="184.1" stroke="#666" stroke-width="0.5" /><line x1="743.4" y1="157.3" x2="743.4" y2="186.2" stroke="#666" stroke-width="0.4" /><rect x="769.7" y="152.4" width="38.90" height="39.00" rx="3.5" fill="#e4e4e6" stroke="#444" stroke-width="0.9"/><rect x="771.2" y="153.9" width="35.90" height="36.00" rx="2.5" fill="none" stroke="#555" stroke-width="0.6"/><rect x="868.6" y="154.2" width="19.80" height="35.40" rx="0" fill="#e4e4e6" stroke="#444" stroke-width="0.7"/><polygon points="888.4,154.2 898,148.2 914.2,148.2 914.2,195.6 898,195.6 888.4,189.6" fill="#e4e4e6" stroke="#444" stroke-width="0.7"/><line x1="898" y1="148.2" x2="898" y2="195.6" stroke="#444" stroke-width="0.6" /><path d="M914.2,148.6 q1.5,0.5 1.5,2.5 L915.7,192.7 q0,2 -1.5,2.5 Z" fill="#bbb" stroke="#444" stroke-width="0.5"/><line x1="710" y1="171.6" x2="917" y2="171.6" stroke="#555" stroke-width="0.6" stroke-dasharray="9,2,1.5,2"/><line x1="789.3" y1="137" x2="789.3" y2="203" stroke="#555" stroke-width="0.6" stroke-dasharray="9,2,1.5,2"/><circle cx="789.3" cy="171.6" r="3.6" fill="#bbb" stroke="#333" stroke-width="0.7"/><circle cx="789.3" cy="171.6" r="2" fill="#333"/><line x1="682.3" y1="228.1" x2="750" y2="228.1" stroke="#555" stroke-width="0.6" /><line x1="701.5" y1="278" x2="753" y2="278" stroke="#555" stroke-width="0.6" /><line x1="682.3" y1="331" x2="753" y2="331" stroke="#555" stroke-width="0.6" /><line x1="684.9" y1="228.3" x2="684.9" y2="330.8" stroke="#333" stroke-width="0.6" /><polygon points="684.9,228.3 683.8,231.5 686.0,231.5" fill="#222"/><polygon points="684.9,330.8 683.8,327.6 686.0,327.6" fill="#222"/><text x="682.8" y="281" font-size="8" text-anchor="middle" fill="#333" transform="rotate(-90 682.8 281)">77.5</text><line x1="704.6" y1="228.3" x2="704.6" y2="277.8" stroke="#333" stroke-width="0.6" /><polygon points="704.6,228.3 703.5,231.5 705.7,231.5" fill="#222"/><polygon points="704.6,277.8 703.5,274.6 705.7,274.6" fill="#222"/><text x="702.3" y="254.2" font-size="8" text-anchor="middle" fill="#333" transform="rotate(-90 702.3 254.2)">37.5</text><line x1="704.6" y1="278.2" x2="704.6" y2="330.8" stroke="#333" stroke-width="0.6" /><polygon points="704.6,278.2 703.5,281.4 705.7,281.4" fill="#222"/><polygon points="704.6,330.8 703.5,327.6 705.7,327.6" fill="#222"/><text x="702.3" y="305.7" font-size="8" text-anchor="middle" fill="#333" transform="rotate(-90 702.3 305.7)">40</text><rect x="741" y="228.5" width="6.60" height="28.00" rx="0" fill="#d0d0d0" stroke="#444" stroke-width="0.7"/><line x1="741.3" y1="230.5" x2="747.3" y2="230.5" stroke="#666" stroke-width="0.5" /><line x1="741.3" y1="233.8" x2="747.3" y2="233.8" stroke="#666" stroke-width="0.5" /><line x1="741.3" y1="237.1" x2="747.3" y2="237.1" stroke="#666" stroke-width="0.5" /><line x1="741.3" y1="240.4" x2="747.3" y2="240.4" stroke="#666" stroke-width="0.5" /><line x1="741.3" y1="243.7" x2="747.3" y2="243.7" stroke="#666" stroke-width="0.5" /><line x1="741.3" y1="247.0" x2="747.3" y2="247.0" stroke="#666" stroke-width="0.5" /><line x1="741.3" y1="250.3" x2="747.3" y2="250.3" stroke="#666" stroke-width="0.5" /><line x1="741.3" y1="253.6" x2="747.3" y2="253.6" stroke="#666" stroke-width="0.5" /><rect x="747.6" y="231.9" width="3.90" height="22.30" rx="0" fill="#e4e4e6" stroke="#444" stroke-width="0.7"/><rect x="751.5" y="228.1" width="19.90" height="29.20" rx="1" fill="#e4e4e6" stroke="#444" stroke-width="0.7"/><rect x="771.4" y="228.1" width="35.40" height="31.50" rx="1" fill="#e4e4e6" stroke="#444" stroke-width="0.7"/><rect x="769.1" y="259.6" width="39.70" height="18.40" rx="0" fill="#e4e4e6" stroke="#444" stroke-width="0.7"/><line x1="769.1" y1="265.7" x2="808.8" y2="265.7" stroke="#444" stroke-width="0.6" /><line x1="735.3" y1="242.4" x2="804.5" y2="242.4" stroke="#555" stroke-width="0.6" stroke-dasharray="9,2,1.5,2"/><line x1="789.6" y1="220.4" x2="789.6" y2="284.2" stroke="#555" stroke-width="0.6" stroke-dasharray="9,2,1.5,2"/><rect x="755.3" y="278" width="113.70" height="53.00" rx="0" fill="#e4e4e6" stroke="#444" stroke-width="0.7"/><rect x="779.6" y="284.9" width="64.8" height="40.7" rx="3" fill="#e4e4e6" stroke="#333" stroke-width="0.9"/><rect x="745.3" y="284.2" width="10.00" height="41.40" rx="0" fill="#e4e4e6" stroke="#444" stroke-width="0.7"/><line x1="745.3" y1="294.1" x2="755.3" y2="294.1" stroke="#444" stroke-width="0.5" /><line x1="745.3" y1="315.7" x2="755.3" y2="315.7" stroke="#444" stroke-width="0.5" /><rect x="739.9" y="290.3" width="5.40" height="30.70" rx="0" fill="#e4e4e6" stroke="#444" stroke-width="0.7"/><rect x="720.7" y="287.2" width="19.20" height="35.10" rx="0.8" fill="#e4e4e6" stroke="#444" stroke-width="0.7"/><line x1="721.5" y1="296.9" x2="731" y2="296.9" stroke="#555" stroke-width="1" stroke-dasharray="3,2"/><line x1="721.5" y1="312.6" x2="731" y2="312.6" stroke="#555" stroke-width="1" stroke-dasharray="3,2"/><rect x="869" y="287.5" width="19.00" height="35.50" rx="0" fill="#e4e4e6" stroke="#444" stroke-width="0.7"/><polygon points="888,287.5 898,281 914.5,281 914.5,328.5 898,328.5 888,323" fill="#e4e4e6" stroke="#444" stroke-width="0.7"/><line x1="898" y1="281" x2="898" y2="328.5" stroke="#444" stroke-width="0.6" /><path d="M914.5,281.4 q1.5,0.5 1.5,2.5 L916,325.6 q0,2 -1.5,2.5 Z" fill="#bbb" stroke="#444" stroke-width="0.5"/><line x1="711.5" y1="304.9" x2="920" y2="304.9" stroke="#555" stroke-width="0.6" stroke-dasharray="9,2,1.5,2"/><ellipse cx="783" cy="304.9" rx="1.4" ry="3" fill="none" stroke="#333" stroke-width="0.6"/><ellipse cx="841.5" cy="304.9" rx="1.4" ry="3" fill="none" stroke="#333" stroke-width="0.6"/><rect x="805.5" y="318.5" width="7.50" height="12.50" rx="0.5" fill="#e4e4e6" stroke="#444" stroke-width="0.7"/><circle cx="809.2" cy="319" r="2.2" fill="none" stroke="#333" stroke-width="0.6"/><line x1="809.2" y1="312" x2="809.2" y2="341" stroke="#555" stroke-width="0.6" stroke-dasharray="3,1.5"/><line x1="720.7" y1="325" x2="720.7" y2="388" stroke="#555" stroke-width="0.6" /><line x1="755.3" y1="333" x2="755.3" y2="372" stroke="#555" stroke-width="0.6" /><line x1="869" y1="333" x2="869" y2="372" stroke="#555" stroke-width="0.6" /><line x1="915.3" y1="332" x2="915.3" y2="388" stroke="#555" stroke-width="0.6" /><line x1="755.5" y1="348.4" x2="809" y2="348.4" stroke="#333" stroke-width="0.6" /><polygon points="755.5,348.4 758.7,347.29999999999995 758.7,349.5" fill="#222"/><polygon points="809,348.4 805.8,347.29999999999995 805.8,349.5" fill="#222"/><text x="782" y="346" font-size="8" text-anchor="middle" font-weight="normal" fill="#333" >40</text><line x1="720.9" y1="367.4" x2="754.8" y2="367.4" stroke="#333" stroke-width="0.6" /><polygon points="720.9,367.4 724.1,366.29999999999995 724.1,368.5" fill="#222"/><polygon points="754.8,367.4 751.5999999999999,366.29999999999995 751.5999999999999,368.5" fill="#222"/><line x1="755.8" y1="367.4" x2="868.6" y2="367.4" stroke="#333" stroke-width="0.6" /><polygon points="755.8,367.4 759.0,366.29999999999995 759.0,368.5" fill="#222"/><polygon points="868.6,367.4 865.4,366.29999999999995 865.4,368.5" fill="#222"/><line x1="869.4" y1="367.4" x2="915.1" y2="367.4" stroke="#333" stroke-width="0.6" /><polygon points="869.4,367.4 872.6,366.29999999999995 872.6,368.5" fill="#222"/><polygon points="915.1,367.4 911.9,366.29999999999995 911.9,368.5" fill="#222"/><text x="737.5" y="365" font-size="8" text-anchor="middle" font-weight="normal" fill="#333" >26</text><text x="812" y="365" font-size="8" text-anchor="middle" font-weight="normal" fill="#333" >84</text><text x="892" y="365" font-size="8" text-anchor="middle" font-weight="normal" fill="#333" >最大 35</text><line x1="720.9" y1="383.6" x2="915.1" y2="383.6" stroke="#333" stroke-width="0.6" /><polygon points="720.9,383.6 724.1,382.5 724.1,384.70000000000005" fill="#222"/><polygon points="915.1,383.6 911.9,382.5 911.9,384.70000000000005" fill="#222"/><text x="812" y="381.5" font-size="8" text-anchor="middle" font-weight="normal" fill="#333" >最大 145</text><polyline points="719,312 700,370.5 671,370.5" fill="none" stroke="#333" stroke-width="0.6"/><text x="671" y="368.5" font-size="7.5" text-anchor="start" font-weight="normal" fill="#333" >Rc 1/4"</text><text x="671" y="378.5" font-size="7" text-anchor="start" font-weight="normal" fill="#333" >壓力接口</text><rect x="963.7" y="227.7" width="37.00" height="31.50" rx="1.2" fill="#e4e4e6" stroke="#444" stroke-width="0.7"/><rect x="962.7" y="259.2" width="38.80" height="19.10" rx="0" fill="#e4e4e6" stroke="#444" stroke-width="0.7"/><line x1="962.7" y1="266" x2="1001.5" y2="266" stroke="#444" stroke-width="0.6" /><rect x="955.4" y="278.3" width="54.40" height="53.20" rx="0" fill="#e4e4e6" stroke="#444" stroke-width="0.7"/><circle cx="982.4" cy="304.9" r="23.6" fill="none" stroke="#333" stroke-width="0.8"/><circle cx="982.4" cy="304.9" r="21" fill="none" stroke="#333" stroke-width="0.6"/><circle cx="982.4" cy="304.9" r="11.5" fill="none" stroke="#333" stroke-width="0.7"/><path d="M963.60,304.90 A18.8,18.8 0 0 0 996.80,316.98 L993.58,314.28 A14.6,14.6 0 0 1 967.80,304.90 Z" fill="#222"/><circle cx="982.4" cy="291.7" r="3.2" fill="none" stroke="#333" stroke-width="0.6"/><text x="967.5" y="302" font-size="7.5" fill="#333" transform="rotate(-62 967.5 302)">INC</text><text x="990" y="288.5" font-size="7.5" fill="#333" transform="rotate(58 990 288.5)">DEC</text><line x1="982.4" y1="221" x2="982.4" y2="338" stroke="#555" stroke-width="0.6" stroke-dasharray="9,2,1.5,2"/><line x1="952" y1="304.9" x2="1013" y2="304.9" stroke="#555" stroke-width="0.6" stroke-dasharray="9,2,1.5,2"/><rect x="961.0999999999999" y="320" width="4.40" height="11.50" rx="0" fill="none" stroke="#444" stroke-width="0.6"/><rect x="999.0" y="320" width="4.40" height="11.50" rx="0" fill="none" stroke="#444" stroke-width="0.6"/><line x1="963.3" y1="331.5" x2="963.3" y2="357" stroke="#555" stroke-width="0.6" /><line x1="1001.3" y1="331.5" x2="1001.3" y2="357" stroke="#555" stroke-width="0.6" /><line x1="963.5" y1="355.3" x2="1001.1" y2="355.3" stroke="#333" stroke-width="0.6" /><polygon points="963.5,355.3 966.7,354.2 966.7,356.40000000000003" fill="#222"/><polygon points="1001.1,355.3 997.9,354.2 997.9,356.40000000000003" fill="#222"/><text x="982.4" y="351.5" font-size="8" text-anchor="middle" font-weight="normal" fill="#333" >28</text><polyline points="1001.5,335 1008,353.3 1080,353.3" fill="none" stroke="#333" stroke-width="0.6"/><text x="1032" y="351" font-size="7.5" text-anchor="start" font-weight="normal" fill="#333" >2-M5x8 深</text><text x="638.1" y="443.5" font-size="12.3" text-anchor="start" font-weight="bold" fill="#231f20" letter-spacing="2.3">結構說</text><text x="686.6" y="443.5" font-size="12.3" text-anchor="start" font-weight="bold" fill="#231f20" >明</text><text x="703" y="443.5" font-size="11" text-anchor="start" font-weight="bold" fill="#231f20" >：</text><line x1="636" y1="451.1" x2="1110.7" y2="451.1" stroke="#222" stroke-width="1.2" /><text transform="translate(637.24,462.62) scale(1.237,1)" font-size="8.47" font-weight="normal" fill="#231f20" stroke="#231f20" stroke-width="0.15">PS-02-</text><line x1="674.10" y1="459.70" x2="680.10" y2="459.70" stroke="#777" stroke-width="0.9"/><line x1="674.98" y1="457.58" x2="679.22" y2="461.82" stroke="#777" stroke-width="0.9"/><line x1="677.10" y1="456.70" x2="677.10" y2="462.70" stroke="#777" stroke-width="0.9"/><line x1="679.22" y1="457.58" x2="674.98" y2="461.82" stroke="#777" stroke-width="0.9"/><text transform="translate(680.92,462.62) scale(1.265,1)" font-size="8.47" font-weight="normal" fill="#231f20" stroke="#231f20" stroke-width="0.15">-10</text><rect x="726.5" y="551.2" width="6.70" height="31.80" rx="0" fill="#d6d6d6" stroke="#444" stroke-width="0.7"/><line x1="726.8" y1="553.0" x2="732.9" y2="553.0" stroke="#666" stroke-width="0.5" /><line x1="726.8" y1="556.4" x2="732.9" y2="556.4" stroke="#666" stroke-width="0.5" /><line x1="726.8" y1="559.8" x2="732.9" y2="559.8" stroke="#666" stroke-width="0.5" /><line x1="726.8" y1="563.2" x2="732.9" y2="563.2" stroke="#666" stroke-width="0.5" /><line x1="726.8" y1="566.6" x2="732.9" y2="566.6" stroke="#666" stroke-width="0.5" /><line x1="726.8" y1="570.0" x2="732.9" y2="570.0" stroke="#666" stroke-width="0.5" /><line x1="726.8" y1="573.4" x2="732.9" y2="573.4" stroke="#666" stroke-width="0.5" /><line x1="726.8" y1="576.8" x2="732.9" y2="576.8" stroke="#666" stroke-width="0.5" /><line x1="726.8" y1="580.2" x2="732.9" y2="580.2" stroke="#666" stroke-width="0.5" /><rect x="733.2" y="555" width="4.80" height="24.00" rx="0" fill="#e4e4e6" stroke="#444" stroke-width="0.7"/><rect x="738" y="550" width="64.6" height="34.8" rx="2.5" fill="#e4e4e6" stroke="#444" stroke-width="0.7"/><line x1="761.8" y1="550" x2="761.8" y2="584.8" stroke="#444" stroke-width="0.6" /><rect x="759.6" y="584.8" width="44.70" height="23.50" rx="0" fill="#e4e4e6" stroke="#444" stroke-width="0.7"/><line x1="759.6" y1="594.8" x2="804.3" y2="594.8" stroke="#444" stroke-width="0.6" /><line x1="719" y1="567.2" x2="800" y2="567.2" stroke="#555" stroke-width="0.6" stroke-dasharray="9,2,1.5,2"/><line x1="781.4" y1="543.4" x2="781.4" y2="612" stroke="#555" stroke-width="0.6" stroke-dasharray="9,2,1.5,2"/><line x1="771.5" y1="600" x2="771.5" y2="618" stroke="#555" stroke-width="0.5" /><rect x="743" y="608.3" width="130.00" height="61.70" rx="0" fill="#e4e4e6" stroke="#444" stroke-width="0.7"/><polygon points="873,618.8 896.4,618.8 907.3,611.7 925,611.7 926.6,613.5 926.6,664 925,665.7 907.3,665.7 896.4,659.3 873,659.3" fill="#e4e4e6" stroke="#444" stroke-width="0.7"/><line x1="925" y1="612" x2="925" y2="665.5" stroke="#777" stroke-width="1.2" /><rect x="816.7" y="616.2" width="56.30" height="46.30" rx="0" fill="#e4e4e6" stroke="#444" stroke-width="0.7"/><line x1="819.9" y1="616.2" x2="819.9" y2="662.5" stroke="#444" stroke-width="0.6" /><line x1="843" y1="616.8" x2="873" y2="616.8" stroke="#444" stroke-width="0.4" /><rect x="860.4" y="621.7" width="46" height="7.7" rx="1" fill="#e4e4e6" stroke="#333" stroke-width="0.9"/><line x1="800" y1="625.5" x2="930" y2="625.5" stroke="#555" stroke-width="0.5" stroke-dasharray="9,2,1.5,2"/><rect x="856.5" y="618.5" width="6.00" height="14.50" rx="0" fill="none" stroke="#444" stroke-width="0.5"/><circle cx="854.6" cy="623.9" r="2.3" fill="#e4e4e6" stroke="#333" stroke-width="0.7"/><rect x="852" y="652" width="5.50" height="6.00" rx="0" fill="#e4e4e6" stroke="#444" stroke-width="0.7"/><path d="M854.6,626 Q851,640 854,652" fill="none" stroke="#444" stroke-width="0.5"/><line x1="802" y1="654.8" x2="868" y2="654.8" stroke="#777" stroke-width="0.9" stroke-dasharray="8,2,1.5,2"/><polygon points="702.5,618.3 724.8,618.3 724.8,622 729.7,622 729.7,615.6 743,615.6 743,613.3 752.8,613.3 752.8,664.8 743,664.8 743,663 729.7,663 729.7,656.7 724.8,656.7 724.8,660.5 702.5,660.5" fill="#e4e4e6" stroke="#444" stroke-width="0.7"/><rect x="702.5" y="629.5" width="20.30" height="19.70" rx="0" fill="#e4e4e6" stroke="#444" stroke-width="0.7"/><path d="M722.8,629.5 L728.5,636 L728.5,642.8 L722.8,649.2" fill="none" stroke="#444" stroke-width="0.6"/><line x1="702.5" y1="630.3" x2="722" y2="630.3" stroke="#777" stroke-width="1" /><line x1="702.5" y1="648.4" x2="722" y2="648.4" stroke="#777" stroke-width="1" /><rect x="728.5" y="635.3" width="60.2" height="8.1" rx="2" fill="#e4e4e6" stroke="#222" stroke-width="0.9"/><rect x="745.9" y="630.3" width="6.90" height="5.00" rx="0" fill="#e4e4e6" stroke="#444" stroke-width="0.6"/><rect x="745.9" y="643.4" width="6.90" height="4.30" rx="0" fill="#e4e4e6" stroke="#444" stroke-width="0.6"/><rect x="741" y="631.5" width="4.90" height="3.80" rx="0" fill="#e4e4e6" stroke="#444" stroke-width="0.5"/><line x1="752.8" y1="630" x2="780.4" y2="630" stroke="#444" stroke-width="0.6" /><line x1="752.8" y1="644.5" x2="780.4" y2="644.5" stroke="#444" stroke-width="0.6" /><line x1="752.8" y1="613.3" x2="752.8" y2="664.8" stroke="#222" stroke-width="0.9" /><rect x="764.4" y="621.4" width="16.8" height="7.5" rx="1" fill="#e4e4e6" stroke="#444" stroke-width="0.6"/><line x1="764.4" y1="618" x2="764.4" y2="629" stroke="#444" stroke-width="0.5" /><rect x="780.4" y="615.6" width="7.10" height="47.40" rx="0" fill="#e4e4e6" stroke="#444" stroke-width="0.7"/><line x1="780.6" y1="615.6" x2="780.6" y2="663" stroke="#222" stroke-width="1.1" /><polyline points="787.5,618.5 808.4,618.5 808.4,657.8 787.5,657.8" fill="none" stroke="#444" stroke-width="0.6"/><polyline points="790,622 790,632 799,632 803.5,634 803.5,645 799,647 790,647 790,657" fill="none" stroke="#444" stroke-width="0.5"/><circle cx="798" cy="639.3" r="5.2" fill="#e4e4e6" stroke="#333" stroke-width="0.7"/><circle cx="795.6" cy="623.7" r="2.4" fill="#e4e4e6" stroke="#333" stroke-width="0.7"/><circle cx="795.6" cy="655" r="2.4" fill="#e4e4e6" stroke="#333" stroke-width="0.7"/><rect x="765" y="660.2" width="3.10" height="10.40" rx="0" fill="#e4e4e6" stroke="#444" stroke-width="0.6"/><line x1="680" y1="639.3" x2="932" y2="639.3" stroke="#555" stroke-width="0.6" stroke-dasharray="9,2,1.5,2"/><line x1="693.9691652433004" y1="527.0379518923364" x2="706.5" y2="624.5" stroke="#333" stroke-width="0.55" /><circle cx="693" cy="519.5" r="7.6" fill="#fff" stroke="#333" stroke-width="0.7"/><text x="693" y="522.6" font-size="8.5" text-anchor="middle" font-weight="normal" fill="#222" >3</text><line x1="731.5561566171859" y1="526.6572385281207" x2="766" y2="623.1" stroke="#333" stroke-width="0.55" /><circle cx="729" cy="519.5" r="7.6" fill="#fff" stroke="#333" stroke-width="0.7"/><text x="729" y="522.6" font-size="8.5" text-anchor="middle" font-weight="normal" fill="#222" >15</text><line x1="765.5738181144925" y1="527.037352206172" x2="769.6" y2="558.2" stroke="#333" stroke-width="0.55" /><circle cx="764.6" cy="519.5" r="7.6" fill="#fff" stroke="#333" stroke-width="0.7"/><text x="764.6" y="522.6" font-size="8.5" text-anchor="middle" font-weight="normal" fill="#222" >14</text><line x1="800.3332464978482" y1="526.9936863801994" x2="785" y2="617.7" stroke="#333" stroke-width="0.55" /><circle cx="801.6" cy="519.5" r="7.6" fill="#fff" stroke="#333" stroke-width="0.7"/><text x="801.6" y="522.6" font-size="8.5" text-anchor="middle" font-weight="normal" fill="#222" >2</text><line x1="832.130687623083" y1="526.8665236874325" x2="805.3" y2="632.6" stroke="#333" stroke-width="0.55" /><circle cx="834" cy="519.5" r="7.6" fill="#fff" stroke="#333" stroke-width="0.7"/><text x="834" y="522.6" font-size="8.5" text-anchor="middle" font-weight="normal" fill="#222" >8</text><line x1="867.9862791148105" y1="526.82836463316" x2="844.5" y2="612.3" stroke="#333" stroke-width="0.55" /><circle cx="870" cy="519.5" r="7.6" fill="#fff" stroke="#333" stroke-width="0.7"/><text x="870" y="522.6" font-size="8.5" text-anchor="middle" font-weight="normal" fill="#222" >1</text><line x1="918.577947980036" y1="526.9657731048108" x2="900" y2="624.5" stroke="#333" stroke-width="0.55" /><circle cx="920" cy="519.5" r="7.6" fill="#fff" stroke="#333" stroke-width="0.7"/><text x="920" y="522.6" font-size="8.5" text-anchor="middle" font-weight="normal" fill="#222" >10</text><line x1="689.7971918123817" y1="693.6881575767454" x2="736.3" y2="638.5" stroke="#333" stroke-width="0.55" /><circle cx="684.9" cy="699.5" r="7.6" fill="#fff" stroke="#333" stroke-width="0.7"/><text x="684.9" y="702.6" font-size="8.5" text-anchor="middle" font-weight="normal" fill="#222" >13</text><line x1="717.160071515059" y1="693.0132570888297" x2="745.8" y2="646.1" stroke="#333" stroke-width="0.55" /><circle cx="713.2" cy="699.5" r="7.6" fill="#fff" stroke="#333" stroke-width="0.7"/><text x="713.2" y="702.6" font-size="8.5" text-anchor="middle" font-weight="normal" fill="#222" >5</text><line x1="741.0354835999868" y1="692.0182566500737" x2="748.5" y2="650.2" stroke="#333" stroke-width="0.55" /><circle cx="739.7" cy="699.5" r="7.6" fill="#fff" stroke="#333" stroke-width="0.7"/><text x="739.7" y="702.6" font-size="8.5" text-anchor="middle" font-weight="normal" fill="#222" >4</text><line x1="769.1874793935107" y1="691.943558359649" x2="766" y2="662.3" stroke="#333" stroke-width="0.55" /><circle cx="770" cy="699.5" r="7.6" fill="#fff" stroke="#333" stroke-width="0.7"/><text x="770" y="702.6" font-size="8.5" text-anchor="middle" font-weight="normal" fill="#222" >11</text><line x1="792.7043649762171" y1="692.6517308909465" x2="774.2" y2="654.2" stroke="#333" stroke-width="0.55" /><circle cx="796" cy="699.5" r="7.6" fill="#fff" stroke="#333" stroke-width="0.7"/><text x="796" y="702.6" font-size="8.5" text-anchor="middle" font-weight="normal" fill="#222" >6</text><line x1="819.2834739339609" y1="693.5406055787208" x2="779.6" y2="643.4" stroke="#333" stroke-width="0.55" /><circle cx="824" cy="699.5" r="7.6" fill="#fff" stroke="#333" stroke-width="0.7"/><text x="824" y="702.6" font-size="8.5" text-anchor="middle" font-weight="normal" fill="#222" >7</text><line x1="856.04299714942" y1="691.9137526803721" x2="854" y2="658" stroke="#333" stroke-width="0.55" /><circle cx="856.5" cy="699.5" r="7.6" fill="#fff" stroke="#333" stroke-width="0.7"/><text x="856.5" y="702.6" font-size="8.5" text-anchor="middle" font-weight="normal" fill="#222" >12</text><line x1="927.7375210940053" y1="692.6358735888724" x2="910.8" y2="657" stroke="#333" stroke-width="0.55" /><circle cx="931" cy="699.5" r="7.6" fill="#fff" stroke="#333" stroke-width="0.7"/><text x="931" y="702.6" font-size="8.5" text-anchor="middle" font-weight="normal" fill="#222" >9</text><text x="977" y="545.0" font-size="7.8" text-anchor="start" font-weight="normal" fill="#333" letter-spacing="1.6">1.</text><text x="986.9" y="545.2" font-size="8.9" text-anchor="start" font-weight="normal" fill="#333" letter-spacing="0.3">本體</text><text x="977" y="558.4" font-size="7.8" text-anchor="start" font-weight="normal" fill="#333" letter-spacing="1.6">2.</text><text x="986.9" y="558.6" font-size="8.9" text-anchor="start" font-weight="normal" fill="#333" letter-spacing="0.3">感應塊</text><text x="977" y="571.8" font-size="7.8" text-anchor="start" font-weight="normal" fill="#333" letter-spacing="1.6">3.</text><text x="986.9" y="572.0" font-size="8.9" text-anchor="start" font-weight="normal" fill="#333" letter-spacing="0.3">接頭</text><text x="977" y="585.2" font-size="7.8" text-anchor="start" font-weight="normal" fill="#333" letter-spacing="1.6">4.</text><text x="986.9" y="585.4000000000001" font-size="8.9" text-anchor="start" font-weight="normal" fill="#333" letter-spacing="0.3">擋塊</text><text x="977" y="598.6" font-size="7.8" text-anchor="start" font-weight="normal" fill="#333" letter-spacing="1.6">5.</text><text x="986.9" y="598.8000000000001" font-size="8.9" text-anchor="start" font-weight="normal" fill="#333" letter-spacing="0.3">油封</text><text x="977" y="612.0" font-size="7.8" text-anchor="start" font-weight="normal" fill="#333" letter-spacing="1.6">6.</text><text x="986.9" y="612.2" font-size="8.9" text-anchor="start" font-weight="normal" fill="#333" letter-spacing="0.3">固定座</text><text x="977" y="625.4" font-size="7.8" text-anchor="start" font-weight="normal" fill="#333" letter-spacing="1.6">7.</text><text x="986.9" y="625.6" font-size="8.9" text-anchor="start" font-weight="normal" fill="#333" letter-spacing="0.3">耐磨環</text><text x="977" y="638.8" font-size="7.8" text-anchor="start" font-weight="normal" fill="#333" letter-spacing="1.6">8.</text><text x="986.9" y="639.0" font-size="8.9" text-anchor="start" font-weight="normal" fill="#333" letter-spacing="0.3">彈簧座</text><text x="1043.8" y="545.0" font-size="7.8" text-anchor="start" font-weight="normal" fill="#333" letter-spacing="1.6">9.</text><text x="1053.8" y="545.2" font-size="8.9" text-anchor="start" font-weight="normal" fill="#333" letter-spacing="0.3">調整旋鈕</text><text x="1043.8" y="558.4" font-size="7.8" text-anchor="start" font-weight="normal" fill="#333" letter-spacing="1.6">10.</text><text x="1060" y="558.6" font-size="8.9" text-anchor="start" font-weight="normal" fill="#333" letter-spacing="0.3">緊固螺絲</text><text x="1043.8" y="571.8" font-size="7.8" text-anchor="start" font-weight="normal" fill="#333" letter-spacing="1.6">11.</text><text x="1060" y="572.0" font-size="8.9" text-anchor="start" font-weight="normal" fill="#333" letter-spacing="0.3">定位銷</text><text x="1043.8" y="585.2" font-size="7.8" text-anchor="start" font-weight="normal" fill="#333" letter-spacing="1.6">12.</text><text x="1060" y="585.4000000000001" font-size="8.9" text-anchor="start" font-weight="normal" fill="#333" letter-spacing="0.3">彈簧</text><text x="1043.8" y="598.6" font-size="7.8" text-anchor="start" font-weight="normal" fill="#333" letter-spacing="1.6">13.</text><text x="1060" y="598.8000000000001" font-size="8.9" text-anchor="start" font-weight="normal" fill="#333" letter-spacing="0.3">推桿</text><text x="1043.8" y="612.0" font-size="7.8" text-anchor="start" font-weight="normal" fill="#333" letter-spacing="1.6">14.</text><text x="1060" y="612.2" font-size="8.9" text-anchor="start" font-weight="normal" fill="#333" letter-spacing="0.3">電源插頭</text><text x="1043.8" y="625.4" font-size="7.8" text-anchor="start" font-weight="normal" fill="#333" letter-spacing="1.6">15.</text><text x="1060" y="625.6" font-size="8.9" text-anchor="start" font-weight="normal" fill="#333" letter-spacing="0.3">感應器</text><line x1="636.4" y1="778" x2="1110.4" y2="778" stroke="#888" stroke-width="1.9" /><rect x="1069.2" y="780.1" width="41.7" height="20.7" fill="#231f20" stroke="none" stroke-width="1" /><text transform="translate(1081.58,794.20) scale(1.007,1)" font-size="10.31" font-weight="normal" fill="#fff" >224</text></svg>
</body></html>
